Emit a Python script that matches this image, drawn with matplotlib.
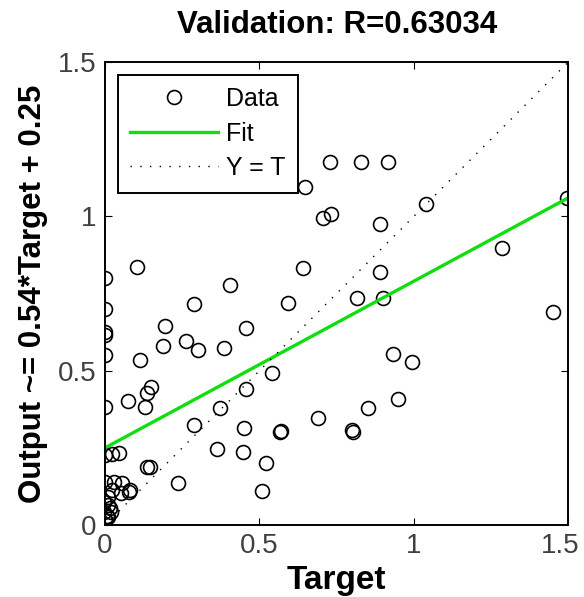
import matplotlib
matplotlib.use("Agg")
import matplotlib.pyplot as plt
import matplotlib.transforms as mtransforms
import numpy as np

# values
target = [0.729, 0.83, 0.915, 0.648, 1.04, 1.497, 0.706, 0.733, 0.891, 1.286,
          0.641, 0.104, 0.891, 0.405, 0.593, 0.288, 0.816, 0.90, 1.451, 0.194,
          0.457, 0.188, 0.262, 0.301, 0.385, 0.113, 0.541, 0.933, 0.995, 0.149,
          0.136, 0.075, 0.13, 0.457, 0.373, 0.949, 0.852, 0.69, 0.288, 0.45,
          0.567, 0.57, 0.803, 0.80, 0.363, 0.447, 0.522, 0.136, 0.146, 0.236,
          0.509, 0.078,
          0.0, 0.0, 0.0, 0.0, 0.0, 0.0, 0.0,
          0.023, 0.045, 0.0, 0.03, 0.055, 0.08, 0.023, 0.05, -0.005, 0.008,
          -0.005, 0.008, 0.0, 0.018, 0.01, 0.015, 0.005]
output = [1.176, 1.176, 1.176, 1.095, 1.04, 1.059, 0.996, 1.008, 0.975, 0.897,
          0.833, 0.835, 0.82, 0.777, 0.719, 0.716, 0.735, 0.735, 0.69, 0.645,
          0.638, 0.58, 0.596, 0.567, 0.574, 0.534, 0.492, 0.554, 0.528, 0.447,
          0.428, 0.402, 0.382, 0.44, 0.38, 0.408, 0.379, 0.347, 0.324, 0.314,
          0.301, 0.305, 0.301, 0.308, 0.246, 0.236, 0.2, 0.188, 0.188, 0.136,
          0.11, 0.107,
          0.80, 0.70, 0.625, 0.615, 0.55, 0.382, 0.227,
          0.23, 0.233, 0.14, 0.14, 0.136, 0.113, 0.113, 0.104, 0.075, 0.065,
          0.042, 0.026, 0.016, 0.042, 0.09, 0.055, 0.03]
slope = 0.54
intercept = 0.25
r_value = 0.63034
tick_vals = [0, 0.5, 1, 1.5]
tick_labels = ["0", "0.5", "1", "1.5"]

plt.rcParams["font.family"] = ["Liberation Sans", "DejaVu Sans"]

fig = plt.figure(figsize=(5.84, 5.97), dpi=100)
ax = fig.add_axes([0.18, 0.1206, 0.793, 0.7755])

ax.plot(target, output, "o", mfc="none", mec="black", ms=10, mew=1.2, label="Data")
xf = np.array([0, 1.5])
ax.plot(xf, slope * xf + intercept, color="#11dd11", lw=2.4, label="Fit")
ax.plot(xf, xf, color="black", lw=1, linestyle=(0, (1, 6)), label="Y = T")

ax.set_xlim(0, 1.5)
ax.set_ylim(0, 1.5)
ax.set_xticks(tick_vals)
ax.set_xticklabels(tick_labels)
ax.set_yticks(tick_vals)
ax.set_yticklabels(tick_labels)
ax.tick_params(direction="in", length=5, top=True, right=True,
               labelsize=20, labelcolor="#404040", pad=6)
for s in ax.spines.values():
    s.set_linewidth(1.4)

# nudge the last x tick label inwards so it stays inside the figure
last = ax.get_xticklabels()[-1]
last.set_transform(last.get_transform() +
                   mtransforms.ScaledTranslation(-8 / 100, 0, fig.dpi_scale_trans))

ax.set_title(f"Validation: R={r_value}", fontsize=22.5, fontweight="bold", pad=21)
ax.set_xlabel("Target", fontsize=24, fontweight="bold", labelpad=4)
ax.set_ylabel(f"Output ~= {slope}*Target + {intercept}", fontsize=22.5,
              fontweight="bold", labelpad=7)

leg = ax.legend(loc="upper left", fontsize=18, fancybox=False, edgecolor="black",
                framealpha=1, borderaxespad=0.5, borderpad=0.5, handlelength=3.5,
                handletextpad=0.35, labelspacing=0.42)
leg.get_frame().set_linewidth(1.4)

fig.savefig("out.png", dpi=100)
